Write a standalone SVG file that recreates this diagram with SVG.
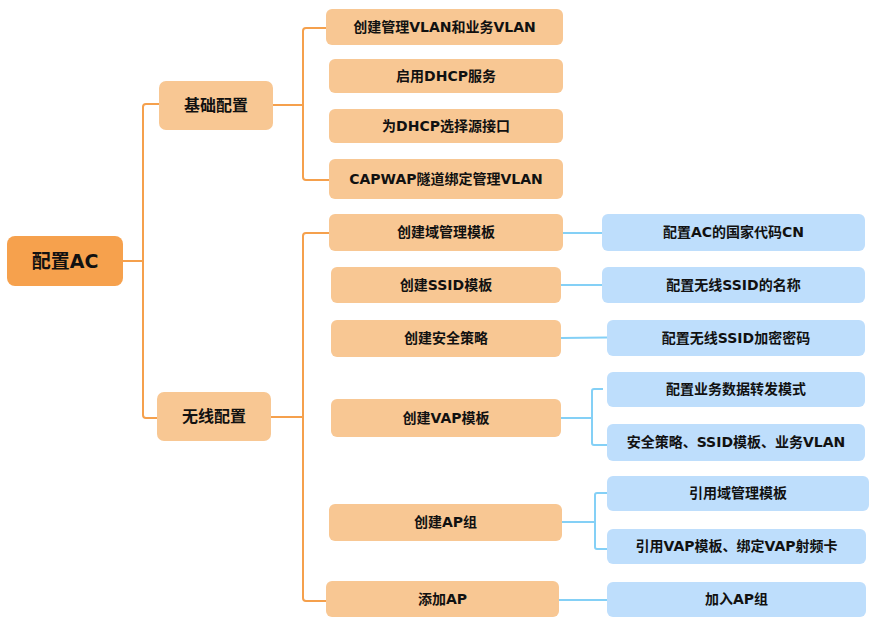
<svg xmlns="http://www.w3.org/2000/svg" width="875" height="626" viewBox="0 0 875 626">
<style>
.root{fill:#F6A14D}
.or{fill:#F8C793}
.bl{fill:#BEDEFC}
.t{font-family:"DejaVu Sans","Noto Sans CJK SC",sans-serif;font-weight:bold;fill:#111;text-anchor:middle;dominant-baseline:central}
.t14{font-size:14px}
.t16{font-size:16px}
.t19{font-size:19px}
.co{fill:none;stroke:#F5A04C;stroke-width:2}
.cb{fill:none;stroke:#84D0F6;stroke-width:2}
</style>
<rect width="875" height="626" fill="#fff"/>
<g id="connectors">
<path class="co" d="M123 261 H143 M159 104 H146 Q143 104 143 107 V415 Q143 418 146 418 H157"/>
<path class="co" d="M273 105 H303 M326 28 H306 Q303 28 303 31 V177 Q303 180 306 180 H329"/>
<path class="co" d="M271 417 H303 M329 233 H306 Q303 233 303 236 V598 Q303 601 306 601 H326"/>
<path class="cb" d="M563 233 H602"/>
<path class="cb" d="M561 285 H602"/>
<path class="cb" d="M561 338 L607 337.5"/>
<path class="cb" d="M561 418 H592 M603 389 H594 Q592 389 592 391 V443 Q592 445 594 445 H607"/>
<path class="cb" d="M562 522 H595 M607 493 H597 Q595 493 595 495 V547 Q595 549 597 549 H607"/>
<path class="cb" d="M559 600 H607"/>
</g>
<g id="n-root"><rect class="root" x="7" y="236" width="116" height="50" rx="8"/><text class="t t19" x="65" y="260.5">配置AC</text></g>
<g id="n-basic"><rect class="or" x="159" y="81" width="114" height="49" rx="7"/><text class="t t16" x="216" y="105">基础配置</text></g>
<g id="n-wireless"><rect class="or" x="157" y="392" width="114" height="49" rx="7"/><text class="t t16" x="214" y="416">无线配置</text></g>
<g id="n-b1"><rect class="or" x="326" y="9" width="237" height="36" rx="6"/><text class="t t14" x="444.5" y="26.5">创建管理VLAN和业务VLAN</text></g>
<g id="n-b2"><rect class="or" x="329" y="59" width="234" height="34" rx="6"/><text class="t t14" x="446" y="75.5">启用DHCP服务</text></g>
<g id="n-b3"><rect class="or" x="329" y="109" width="234" height="34" rx="6"/><text class="t t14" x="446" y="125.5">为DHCP选择源接口</text></g>
<g id="n-b4"><rect class="or" x="329" y="159" width="234" height="40" rx="6"/><text class="t t14" x="446" y="178.5">CAPWAP隧道绑定管理VLAN</text></g>
<g id="n-w1"><rect class="or" x="329" y="214" width="234" height="37" rx="6"/><text class="t t14" x="446" y="232">创建域管理模板</text></g>
<g id="n-w2"><rect class="or" x="331" y="267" width="230" height="36" rx="6"/><text class="t t14" x="446" y="284.5">创建SSID模板</text></g>
<g id="n-w3"><rect class="or" x="331" y="320" width="230" height="37" rx="6"/><text class="t t14" x="446" y="338">创建安全策略</text></g>
<g id="n-w4"><rect class="or" x="331" y="399" width="230" height="38" rx="6"/><text class="t t14" x="446" y="417.5">创建VAP模板</text></g>
<g id="n-w5"><rect class="or" x="329" y="504" width="233" height="37" rx="6"/><text class="t t14" x="445.5" y="522">创建AP组</text></g>
<g id="n-w6"><rect class="or" x="326" y="581" width="233" height="36" rx="6"/><text class="t t14" x="442.5" y="598.5">添加AP</text></g>
<g id="n-c1"><rect class="bl" x="602" y="214" width="263" height="37" rx="6"/><text class="t t14" x="733.5" y="232">配置AC的国家代码CN</text></g>
<g id="n-c2"><rect class="bl" x="602" y="267" width="263" height="36" rx="6"/><text class="t t14" x="733.5" y="284.5">配置无线SSID的名称</text></g>
<g id="n-c3"><rect class="bl" x="607" y="320" width="258" height="36" rx="6"/><text class="t t14" x="736" y="337.5">配置无线SSID加密密码</text></g>
<g id="n-c4"><rect class="bl" x="607" y="372" width="258" height="35" rx="6"/><text class="t t14" x="736" y="389">配置业务数据转发模式</text></g>
<g id="n-c5"><rect class="bl" x="607" y="424" width="258" height="37" rx="6"/><text class="t t14" x="736" y="442">安全策略、SSID模板、业务VLAN</text></g>
<g id="n-c6"><rect class="bl" x="607" y="476" width="262" height="35" rx="6"/><text class="t t14" x="738" y="493">引用域管理模板</text></g>
<g id="n-c7"><rect class="bl" x="607" y="529" width="259" height="35" rx="6"/><text class="t t14" x="736.5" y="546">引用VAP模板、绑定VAP射频卡</text></g>
<g id="n-c8"><rect class="bl" x="607" y="582" width="259" height="35" rx="6"/><text class="t t14" x="736.5" y="599">加入AP组</text></g>
</svg>
